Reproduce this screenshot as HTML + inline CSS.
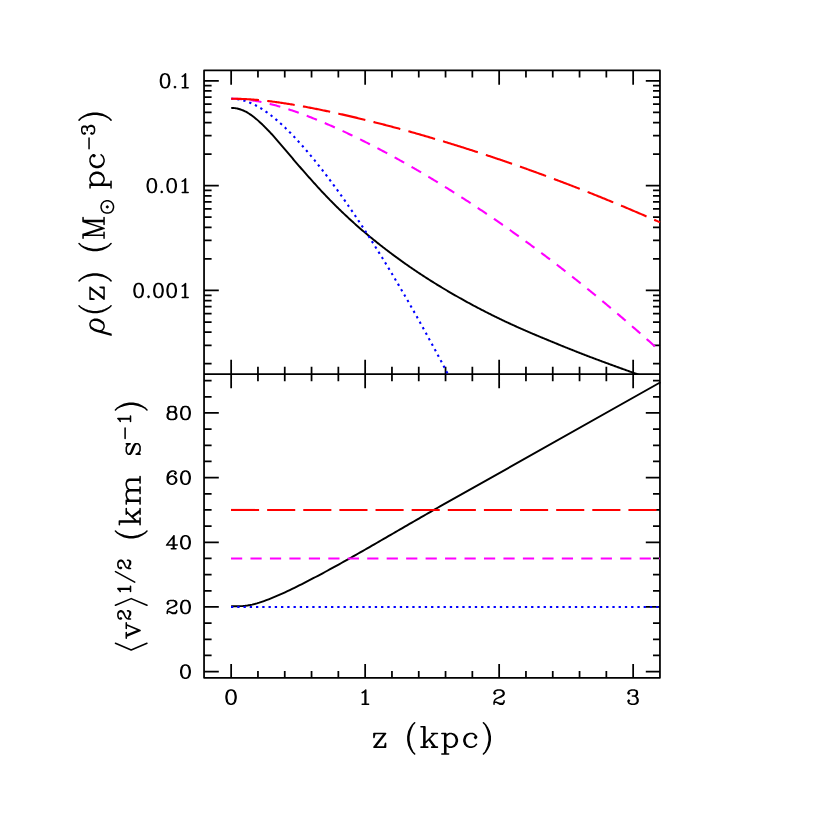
<!DOCTYPE html>
<html><head><meta charset="utf-8"><title>chart</title>
<style>html,body{margin:0;padding:0;background:#fff;font-family:"Liberation Sans",sans-serif}svg{display:block}</style></head>
<body><svg width="830" height="830" viewBox="0 0 830 830">
<rect width="830" height="830" fill="#fff"/>
<path d="M204.05 70.42 H659.95 V677.78 H204.05 Z M204.05 374.00 H659.95 M231.15 70.42 v14.40 M231.15 359.80 v28.40 M231.15 677.78 v-13.80 M257.95 70.42 v7.00 M257.95 366.80 v14.40 M257.95 677.78 v-6.70 M284.75 70.42 v7.00 M284.75 366.80 v14.40 M284.75 677.78 v-6.70 M311.55 70.42 v7.00 M311.55 366.80 v14.40 M311.55 677.78 v-6.70 M338.35 70.42 v7.00 M338.35 366.80 v14.40 M338.35 677.78 v-6.70 M365.15 70.42 v14.40 M365.15 359.80 v28.40 M365.15 677.78 v-13.80 M391.95 70.42 v7.00 M391.95 366.80 v14.40 M391.95 677.78 v-6.70 M418.75 70.42 v7.00 M418.75 366.80 v14.40 M418.75 677.78 v-6.70 M445.55 70.42 v7.00 M445.55 366.80 v14.40 M445.55 677.78 v-6.70 M472.35 70.42 v7.00 M472.35 366.80 v14.40 M472.35 677.78 v-6.70 M499.15 70.42 v14.40 M499.15 359.80 v28.40 M499.15 677.78 v-13.80 M525.95 70.42 v7.00 M525.95 366.80 v14.40 M525.95 677.78 v-6.70 M552.75 70.42 v7.00 M552.75 366.80 v14.40 M552.75 677.78 v-6.70 M579.55 70.42 v7.00 M579.55 366.80 v14.40 M579.55 677.78 v-6.70 M606.35 70.42 v7.00 M606.35 366.80 v14.40 M606.35 677.78 v-6.70 M633.15 70.42 v14.40 M633.15 359.80 v28.40 M633.15 677.78 v-13.80 M204.05 80.80 h14.75 M659.95 80.80 h-14.15 M204.05 185.63 h14.75 M659.95 185.63 h-14.15 M204.05 154.07 h7.55 M659.95 154.07 h-6.95 M204.05 135.61 h7.55 M659.95 135.61 h-6.95 M204.05 122.52 h7.55 M659.95 122.52 h-6.95 M204.05 112.36 h7.55 M659.95 112.36 h-6.95 M204.05 104.06 h7.55 M659.95 104.06 h-6.95 M204.05 97.04 h7.55 M659.95 97.04 h-6.95 M204.05 90.96 h7.55 M659.95 90.96 h-6.95 M204.05 85.60 h7.55 M659.95 85.60 h-6.95 M204.05 290.46 h14.75 M659.95 290.46 h-14.15 M204.05 258.90 h7.55 M659.95 258.90 h-6.95 M204.05 240.44 h7.55 M659.95 240.44 h-6.95 M204.05 227.35 h7.55 M659.95 227.35 h-6.95 M204.05 217.19 h7.55 M659.95 217.19 h-6.95 M204.05 208.89 h7.55 M659.95 208.89 h-6.95 M204.05 201.87 h7.55 M659.95 201.87 h-6.95 M204.05 195.79 h7.55 M659.95 195.79 h-6.95 M204.05 190.43 h7.55 M659.95 190.43 h-6.95 M204.05 363.73 h7.55 M659.95 363.73 h-6.95 M204.05 345.27 h7.55 M659.95 345.27 h-6.95 M204.05 332.18 h7.55 M659.95 332.18 h-6.95 M204.05 322.02 h7.55 M659.95 322.02 h-6.95 M204.05 313.72 h7.55 M659.95 313.72 h-6.95 M204.05 306.70 h7.55 M659.95 306.70 h-6.95 M204.05 300.62 h7.55 M659.95 300.62 h-6.95 M204.05 295.26 h7.55 M659.95 295.26 h-6.95 M204.05 671.62 h14.75 M659.95 671.62 h-14.15 M204.05 655.45 h7.55 M659.95 655.45 h-6.95 M204.05 639.29 h7.55 M659.95 639.29 h-6.95 M204.05 623.12 h7.55 M659.95 623.12 h-6.95 M204.05 606.96 h14.75 M659.95 606.96 h-14.15 M204.05 590.79 h7.55 M659.95 590.79 h-6.95 M204.05 574.63 h7.55 M659.95 574.63 h-6.95 M204.05 558.46 h7.55 M659.95 558.46 h-6.95 M204.05 542.30 h14.75 M659.95 542.30 h-14.15 M204.05 526.13 h7.55 M659.95 526.13 h-6.95 M204.05 509.97 h7.55 M659.95 509.97 h-6.95 M204.05 493.80 h7.55 M659.95 493.80 h-6.95 M204.05 477.63 h14.75 M659.95 477.63 h-14.15 M204.05 461.47 h7.55 M659.95 461.47 h-6.95 M204.05 445.30 h7.55 M659.95 445.30 h-6.95 M204.05 429.14 h7.55 M659.95 429.14 h-6.95 M204.05 412.97 h14.75 M659.95 412.97 h-14.15 M204.05 396.81 h7.55 M659.95 396.81 h-6.95 M204.05 380.64 h7.55 M659.95 380.64 h-6.95" fill="none" stroke="#000" stroke-width="1.75" stroke-linecap="butt" stroke-linejoin="round"/>
<defs><clipPath id="ct"><rect x="204.05" y="70.42" width="456.90" height="303.58"/></clipPath></defs>
<g fill="none" stroke-width="2.10" stroke-linejoin="round">
<path d="M231.20 107.90 L232.06 107.91 L232.92 107.95 L233.78 108.02 L234.64 108.11 L235.50 108.23 L236.36 108.38 L237.22 108.55 L238.07 108.75 L238.93 108.98 L239.79 109.23 L240.65 109.51 L241.51 109.81 L242.37 110.15 L243.23 110.50 L244.09 110.89 L244.95 111.30 L245.81 111.74 L246.67 112.20 L247.53 112.69 L248.39 113.21 L249.25 113.75 L250.11 114.32 L250.96 114.90 L251.82 115.52 L252.68 116.15 L253.54 116.81 L254.40 117.48 L255.26 118.18 L256.12 118.89 L256.98 119.63 L257.84 120.38 L258.70 121.14 L259.56 121.92 L260.42 122.71 L261.28 123.52 L262.14 124.33 L262.99 125.16 L263.85 126.00 L264.71 126.85 L265.57 127.70 L266.43 128.57 L267.29 129.45 L268.15 130.34 L269.01 131.25 L269.87 132.16 L270.73 133.08 L271.59 134.02 L272.45 134.97 L273.31 135.93 L274.17 136.89 L275.03 137.87 L275.88 138.85 L276.74 139.84 L277.60 140.83 L278.46 141.83 L279.32 142.83 L280.18 143.84 L281.04 144.84 L281.90 145.85 L282.76 146.86 L283.62 147.87 L284.48 148.88 L285.34 149.89 L286.20 150.90 L287.06 151.91 L287.92 152.93 L288.77 153.94 L289.63 154.95 L290.49 155.97 L291.35 156.98 L292.21 157.99 L293.07 159.00 L293.93 160.01 L294.79 161.02 L295.65 162.03 L296.51 163.03 L297.37 164.03 L298.23 165.02 L299.09 166.02 L299.95 167.01 L300.80 168.00 L301.66 168.99 L302.52 169.97 L303.38 170.95 L304.24 171.93 L305.10 172.90 L305.96 173.88 L306.82 174.85 L307.68 175.82 L308.54 176.78 L309.40 177.75 L310.26 178.71 L311.12 179.68 L311.98 180.64 L312.84 181.60 L313.69 182.55 L314.55 183.51 L315.41 184.46 L316.27 185.41 L317.13 186.36 L317.99 187.30 L318.85 188.24 L319.71 189.18 L320.57 190.11 L321.43 191.04 L322.29 191.96 L323.15 192.88 L324.01 193.79 L324.87 194.70 L325.73 195.60 L326.58 196.50 L327.44 197.40 L328.30 198.29 L329.16 199.18 L330.02 200.06 L330.88 200.94 L331.74 201.81 L332.60 202.68 L333.46 203.54 L334.32 204.41 L335.18 205.26 L336.04 206.11 L336.90 206.96 L337.76 207.81 L338.61 208.65 L339.47 209.48 L340.33 210.31 L341.19 211.14 L342.05 211.97 L342.91 212.79 L343.77 213.60 L344.63 214.41 L345.49 215.22 L346.35 216.03 L347.21 216.83 L348.07 217.63 L348.93 218.42 L349.79 219.21 L350.65 220.00 L351.50 220.78 L352.36 221.56 L353.22 222.34 L354.08 223.11 L354.94 223.88 L355.80 224.65 L356.66 225.41 L357.52 226.17 L358.38 226.92 L359.24 227.67 L360.10 228.42 L360.96 229.17 L361.82 229.91 L362.68 230.64 L363.54 231.38 L364.39 232.11 L365.25 232.83 L366.11 233.56 L366.97 234.28 L367.83 234.99 L368.69 235.71 L369.55 236.42 L370.41 237.13 L371.27 237.83 L372.13 238.54 L372.99 239.24 L373.85 239.93 L374.71 240.63 L375.57 241.32 L376.42 242.01 L377.28 242.69 L378.14 243.38 L379.00 244.06 L379.86 244.74 L380.72 245.41 L381.58 246.09 L382.44 246.76 L383.30 247.43 L384.16 248.09 L385.02 248.75 L385.88 249.41 L386.74 250.07 L387.60 250.73 L388.46 251.38 L389.31 252.03 L390.17 252.68 L391.03 253.32 L391.89 253.97 L392.75 254.61 L393.61 255.25 L394.47 255.88 L395.33 256.51 L396.19 257.15 L397.05 257.77 L397.91 258.40 L398.77 259.03 L399.63 259.65 L400.49 260.27 L401.35 260.88 L402.20 261.50 L403.06 262.11 L403.92 262.72 L404.78 263.33 L405.64 263.94 L406.50 264.54 L407.36 265.14 L408.22 265.74 L409.08 266.34 L409.94 266.94 L410.80 267.53 L411.66 268.12 L412.52 268.71 L413.38 269.29 L414.23 269.88 L415.09 270.46 L415.95 271.04 L416.81 271.62 L417.67 272.19 L418.53 272.76 L419.39 273.33 L420.25 273.90 L421.11 274.47 L421.97 275.03 L422.83 275.60 L423.69 276.16 L424.55 276.72 L425.41 277.27 L426.27 277.83 L427.12 278.38 L427.98 278.93 L428.84 279.48 L429.70 280.02 L430.56 280.56 L431.42 281.11 L432.28 281.65 L433.14 282.18 L434.00 282.72 L434.86 283.25 L435.72 283.79 L436.58 284.32 L437.44 284.84 L438.30 285.37 L439.16 285.89 L440.01 286.42 L440.87 286.94 L441.73 287.46 L442.59 287.97 L443.45 288.49 L444.31 289.00 L445.17 289.51 L446.03 290.02 L446.89 290.53 L447.75 291.04 L448.61 291.54 L449.47 292.05 L450.33 292.55 L451.19 293.05 L452.04 293.55 L452.90 294.05 L453.76 294.54 L454.62 295.04 L455.48 295.53 L456.34 296.03 L457.20 296.52 L458.06 297.01 L458.92 297.49 L459.78 297.98 L460.64 298.47 L461.50 298.95 L462.36 299.43 L463.22 299.91 L464.08 300.39 L464.93 300.86 L465.79 301.34 L466.65 301.81 L467.51 302.28 L468.37 302.75 L469.23 303.22 L470.09 303.68 L470.95 304.15 L471.81 304.61 L472.67 305.07 L473.53 305.53 L474.39 305.99 L475.25 306.45 L476.11 306.90 L476.97 307.36 L477.82 307.81 L478.68 308.26 L479.54 308.71 L480.40 309.16 L481.26 309.61 L482.12 310.05 L482.98 310.49 L483.84 310.94 L484.70 311.38 L485.56 311.82 L486.42 312.25 L487.28 312.69 L488.14 313.13 L489.00 313.56 L489.85 313.99 L490.71 314.42 L491.57 314.85 L492.43 315.28 L493.29 315.70 L494.15 316.13 L495.01 316.55 L495.87 316.98 L496.73 317.40 L497.59 317.81 L498.45 318.23 L499.31 318.65 L500.17 319.06 L501.03 319.47 L501.89 319.88 L502.74 320.29 L503.60 320.70 L504.46 321.10 L505.32 321.51 L506.18 321.91 L507.04 322.31 L507.90 322.71 L508.76 323.11 L509.62 323.50 L510.48 323.90 L511.34 324.29 L512.20 324.69 L513.06 325.08 L513.92 325.47 L514.78 325.86 L515.63 326.25 L516.49 326.63 L517.35 327.02 L518.21 327.41 L519.07 327.79 L519.93 328.17 L520.79 328.55 L521.65 328.93 L522.51 329.31 L523.37 329.69 L524.23 330.07 L525.09 330.44 L525.95 330.82 L526.81 331.19 L527.66 331.57 L528.52 331.94 L529.38 332.31 L530.24 332.68 L531.10 333.05 L531.96 333.41 L532.82 333.78 L533.68 334.15 L534.54 334.51 L535.40 334.88 L536.26 335.24 L537.12 335.60 L537.98 335.96 L538.84 336.32 L539.70 336.68 L540.55 337.04 L541.41 337.39 L542.27 337.75 L543.13 338.10 L543.99 338.46 L544.85 338.81 L545.71 339.17 L546.57 339.52 L547.43 339.87 L548.29 340.23 L549.15 340.58 L550.01 340.94 L550.87 341.29 L551.73 341.64 L552.59 342.00 L553.44 342.35 L554.30 342.71 L555.16 343.06 L556.02 343.42 L556.88 343.77 L557.74 344.13 L558.60 344.48 L559.46 344.83 L560.32 345.18 L561.18 345.53 L562.04 345.88 L562.90 346.23 L563.76 346.58 L564.62 346.93 L565.47 347.28 L566.33 347.62 L567.19 347.97 L568.05 348.31 L568.91 348.66 L569.77 349.00 L570.63 349.35 L571.49 349.69 L572.35 350.03 L573.21 350.37 L574.07 350.71 L574.93 351.05 L575.79 351.39 L576.65 351.73 L577.51 352.07 L578.36 352.40 L579.22 352.74 L580.08 353.08 L580.94 353.41 L581.80 353.75 L582.66 354.08 L583.52 354.41 L584.38 354.75 L585.24 355.08 L586.10 355.41 L586.96 355.74 L587.82 356.07 L588.68 356.40 L589.54 356.73 L590.40 357.05 L591.25 357.38 L592.11 357.70 L592.97 358.03 L593.83 358.35 L594.69 358.68 L595.55 359.00 L596.41 359.32 L597.27 359.64 L598.13 359.96 L598.99 360.28 L599.85 360.60 L600.71 360.92 L601.57 361.24 L602.43 361.55 L603.28 361.87 L604.14 362.19 L605.00 362.51 L605.86 362.82 L606.72 363.14 L607.58 363.45 L608.44 363.77 L609.30 364.08 L610.16 364.40 L611.02 364.71 L611.88 365.03 L612.74 365.34 L613.60 365.65 L614.46 365.97 L615.32 366.28 L616.17 366.59 L617.03 366.91 L617.89 367.22 L618.75 367.53 L619.61 367.84 L620.47 368.15 L621.33 368.46 L622.19 368.77 L623.05 369.08 L623.91 369.39 L624.77 369.70 L625.63 370.01 L626.49 370.32 L627.35 370.63 L628.21 370.94 L629.06 371.25 L629.92 371.56 L630.78 371.87 L631.64 372.18 L632.50 372.48 L633.36 372.79 L634.22 373.10 L635.08 373.41 L635.94 373.71 L636.80 374.02 L637.66 374.33 L638.52 374.63 L639.38 374.94 L640.24 375.24 L641.09 375.55 L641.95 375.85 L642.81 376.16 L643.67 376.46 L644.53 376.76 L645.39 377.07 L646.25 377.37 L647.11 377.67 L647.97 377.97 L648.83 378.28 L649.69 378.58 L650.55 378.88 L651.41 379.18 L652.27 379.49 L653.13 379.79 L653.98 380.09 L654.84 380.39 L655.70 380.69 L656.56 381.00 L657.42 381.30 L658.28 381.60 L659.14 381.90 L660.00 382.20" stroke="#000" stroke-width="1.95" clip-path="url(#ct)"/>
<path d="M231.20 98.75 L231.79 98.75 L232.38 98.77 L232.96 98.79 L233.55 98.81 L234.14 98.85 L234.73 98.89 L235.31 98.94 L235.90 99.00 L236.49 99.07 L237.08 99.14 L237.66 99.23 L238.25 99.32 L238.84 99.41 L239.43 99.52 L240.02 99.63 L240.60 99.75 L241.19 99.88 L241.78 100.02 L242.37 100.16 L242.95 100.31 L243.54 100.47 L244.13 100.64 L244.72 100.81 L245.31 100.99 L245.89 101.18 L246.48 101.38 L247.07 101.58 L247.66 101.79 L248.24 102.01 L248.83 102.23 L249.42 102.46 L250.01 102.70 L250.59 102.95 L251.18 103.20 L251.77 103.46 L252.36 103.72 L252.95 104.00 L253.53 104.28 L254.12 104.56 L254.71 104.86 L255.30 105.15 L255.88 105.46 L256.47 105.77 L257.06 106.09 L257.65 106.42 L258.24 106.75 L258.82 107.09 L259.41 107.43 L260.00 107.78 L260.59 108.14 L261.17 108.50 L261.76 108.87 L262.35 109.24 L262.94 109.62 L263.52 110.01 L264.11 110.40 L264.70 110.80 L265.29 111.20 L265.88 111.61 L266.46 112.02 L267.05 112.44 L267.64 112.86 L268.23 113.29 L268.81 113.73 L269.40 114.17 L269.99 114.62 L270.58 115.07 L271.16 115.52 L271.75 115.98 L272.34 116.45 L272.93 116.92 L273.52 117.40 L274.10 117.88 L274.69 118.36 L275.28 118.85 L275.87 119.35 L276.45 119.85 L277.04 120.35 L277.63 120.86 L278.22 121.37 L278.81 121.89 L279.39 122.41 L279.98 122.94 L280.57 123.47 L281.16 124.00 L281.74 124.54 L282.33 125.09 L282.92 125.63 L283.51 126.19 L284.09 126.74 L284.68 127.30 L285.27 127.86 L285.86 128.43 L286.45 129.00 L287.03 129.58 L287.62 130.16 L288.21 130.74 L288.80 131.33 L289.38 131.92 L289.97 132.51 L290.56 133.11 L291.15 133.71 L291.74 134.32 L292.32 134.92 L292.91 135.54 L293.50 136.15 L294.09 136.77 L294.67 137.39 L295.26 138.02 L295.85 138.65 L296.44 139.28 L297.02 139.92 L297.61 140.56 L298.20 141.20 L298.79 141.84 L299.38 142.49 L299.96 143.14 L300.55 143.80 L301.14 144.46 L301.73 145.12 L302.31 145.78 L302.90 146.45 L303.49 147.12 L304.08 147.79 L304.66 148.47 L305.25 149.15 L305.84 149.83 L306.43 150.51 L307.02 151.20 L307.60 151.89 L308.19 152.59 L308.78 153.28 L309.37 153.98 L309.95 154.68 L310.54 155.39 L311.13 156.09 L311.72 156.80 L312.31 157.52 L312.89 158.23 L313.48 158.95 L314.07 159.67 L314.66 160.39 L315.24 161.12 L315.83 161.85 L316.42 162.58 L317.01 163.31 L317.59 164.05 L318.18 164.79 L318.77 165.53 L319.36 166.27 L319.95 167.01 L320.53 167.76 L321.12 168.51 L321.71 169.27 L322.30 170.02 L322.88 170.78 L323.47 171.54 L324.06 172.30 L324.65 173.07 L325.24 173.83 L325.82 174.60 L326.41 175.38 L327.00 176.15 L327.59 176.93 L328.17 177.70 L328.76 178.49 L329.35 179.27 L329.94 180.05 L330.52 180.84 L331.11 181.63 L331.70 182.42 L332.29 183.22 L332.88 184.01 L333.46 184.81 L334.05 185.61 L334.64 186.42 L335.23 187.22 L335.81 188.03 L336.40 188.84 L336.99 189.65 L337.58 190.46 L338.16 191.28 L338.75 192.09 L339.34 192.91 L339.93 193.73 L340.52 194.56 L341.10 195.38 L341.69 196.21 L342.28 197.04 L342.87 197.87 L343.45 198.71 L344.04 199.54 L344.63 200.38 L345.22 201.22 L345.81 202.06 L346.39 202.90 L346.98 203.75 L347.57 204.60 L348.16 205.45 L348.74 206.30 L349.33 207.15 L349.92 208.01 L350.51 208.86 L351.09 209.72 L351.68 210.58 L352.27 211.45 L352.86 212.31 L353.45 213.18 L354.03 214.04 L354.62 214.91 L355.21 215.79 L355.80 216.66 L356.38 217.54 L356.97 218.41 L357.56 219.29 L358.15 220.17 L358.74 221.06 L359.32 221.94 L359.91 222.83 L360.50 223.72 L361.09 224.61 L361.67 225.50 L362.26 226.39 L362.85 227.29 L363.44 228.19 L364.02 229.09 L364.61 229.99 L365.20 230.89 L365.79 231.80 L366.38 232.70 L366.96 233.61 L367.55 234.52 L368.14 235.43 L368.73 236.35 L369.31 237.26 L369.90 238.18 L370.49 239.10 L371.08 240.02 L371.66 240.94 L372.25 241.86 L372.84 242.79 L373.43 243.71 L374.02 244.64 L374.60 245.57 L375.19 246.51 L375.78 247.44 L376.37 248.37 L376.95 249.31 L377.54 250.25 L378.13 251.19 L378.72 252.13 L379.31 253.08 L379.89 254.02 L380.48 254.97 L381.07 255.92 L381.66 256.87 L382.24 257.82 L382.83 258.78 L383.42 259.73 L384.01 260.69 L384.59 261.65 L385.18 262.61 L385.77 263.57 L386.36 264.54 L386.95 265.50 L387.53 266.47 L388.12 267.44 L388.71 268.41 L389.30 269.38 L389.88 270.35 L390.47 271.33 L391.06 272.30 L391.65 273.28 L392.24 274.26 L392.82 275.24 L393.41 276.23 L394.00 277.21 L394.59 278.20 L395.17 279.19 L395.76 280.18 L396.35 281.17 L396.94 282.16 L397.52 283.15 L398.11 284.15 L398.70 285.15 L399.29 286.15 L399.88 287.15 L400.46 288.15 L401.05 289.15 L401.64 290.16 L402.23 291.16 L402.81 292.17 L403.40 293.18 L403.99 294.20 L404.58 295.21 L405.16 296.22 L405.75 297.24 L406.34 298.26 L406.93 299.28 L407.52 300.30 L408.10 301.32 L408.69 302.34 L409.28 303.37 L409.87 304.40 L410.45 305.42 L411.04 306.46 L411.63 307.49 L412.22 308.52 L412.81 309.55 L413.39 310.59 L413.98 311.63 L414.57 312.67 L415.16 313.71 L415.74 314.75 L416.33 315.80 L416.92 316.84 L417.51 317.89 L418.09 318.94 L418.68 319.99 L419.27 321.04 L419.86 322.09 L420.45 323.15 L421.03 324.20 L421.62 325.26 L422.21 326.32 L422.80 327.38 L423.38 328.44 L423.97 329.50 L424.56 330.57 L425.15 331.64 L425.74 332.70 L426.32 333.77 L426.91 334.84 L427.50 335.92 L428.09 336.99 L428.67 338.07 L429.26 339.14 L429.85 340.22 L430.44 341.30 L431.02 342.38 L431.61 343.47 L432.20 344.55 L432.79 345.64 L433.38 346.72 L433.96 347.81 L434.55 348.90 L435.14 350.00 L435.73 351.09 L436.31 352.18 L436.90 353.28 L437.49 354.38 L438.08 355.48 L438.66 356.58 L439.25 357.68 L439.84 358.78 L440.43 359.89 L441.02 361.00 L441.60 362.10 L442.19 363.21 L442.78 364.32 L443.37 365.44 L443.95 366.55 L444.54 367.67 L445.13 368.78 L445.72 369.90 L446.31 371.02 L446.89 372.14 L447.48 373.27 L448.07 374.39 L448.66 375.52 L449.24 376.64 L449.83 377.77 L450.42 378.90 L451.01 380.03 L451.59 381.17 L452.18 382.30 L452.77 383.44 L453.36 384.57 L453.95 385.71 L454.53 386.85 L455.12 387.99 L455.71 389.14 L456.30 390.28 L456.88 391.43 L457.47 392.57 L458.06 393.72 L458.65 394.87 L459.24 396.03 L459.82 397.18 L460.41 398.33 L461.00 399.49 L461.59 400.65 L462.17 401.81 L462.76 402.97 L463.35 404.13 L463.94 405.29 L464.52 406.46 L465.11 407.62 L465.70 408.79" stroke="#0000ff" stroke-dasharray="2.3 3.945" stroke-dashoffset="0.25" clip-path="url(#ct)"/>
<path d="M231.20 98.75 L232.27 98.75 L233.35 98.77 L234.42 98.79 L235.50 98.82 L236.57 98.86 L237.65 98.90 L238.72 98.96 L239.80 99.02 L240.87 99.10 L241.95 99.18 L243.02 99.27 L244.10 99.36 L245.17 99.47 L246.25 99.58 L247.32 99.70 L248.39 99.83 L249.47 99.97 L250.54 100.11 L251.62 100.27 L252.69 100.42 L253.77 100.59 L254.84 100.77 L255.92 100.95 L256.99 101.14 L258.07 101.33 L259.14 101.53 L260.22 101.74 L261.29 101.96 L262.37 102.18 L263.44 102.41 L264.52 102.64 L265.59 102.88 L266.66 103.13 L267.74 103.38 L268.81 103.64 L269.89 103.91 L270.96 104.18 L272.04 104.45 L273.11 104.73 L274.19 105.02 L275.26 105.31 L276.34 105.61 L277.41 105.91 L278.49 106.21 L279.56 106.53 L280.64 106.84 L281.71 107.16 L282.78 107.49 L283.86 107.82 L284.93 108.15 L286.01 108.49 L287.08 108.83 L288.16 109.18 L289.23 109.53 L290.31 109.89 L291.38 110.24 L292.46 110.61 L293.53 110.97 L294.61 111.34 L295.68 111.72 L296.76 112.10 L297.83 112.48 L298.91 112.86 L299.98 113.25 L301.05 113.64 L302.13 114.04 L303.20 114.44 L304.28 114.84 L305.35 115.24 L306.43 115.65 L307.50 116.06 L308.58 116.48 L309.65 116.90 L310.73 117.32 L311.80 117.74 L312.88 118.17 L313.95 118.60 L315.03 119.03 L316.10 119.46 L317.17 119.90 L318.25 120.34 L319.32 120.78 L320.40 121.23 L321.47 121.68 L322.55 122.13 L323.62 122.58 L324.70 123.04 L325.77 123.50 L326.85 123.96 L327.92 124.42 L329.00 124.89 L330.07 125.36 L331.15 125.83 L332.22 126.30 L333.30 126.78 L334.37 127.26 L335.44 127.74 L336.52 128.22 L337.59 128.70 L338.67 129.19 L339.74 129.68 L340.82 130.17 L341.89 130.67 L342.97 131.16 L344.04 131.66 L345.12 132.16 L346.19 132.66 L347.27 133.17 L348.34 133.68 L349.42 134.19 L350.49 134.70 L351.56 135.21 L352.64 135.73 L353.71 136.24 L354.79 136.76 L355.86 137.28 L356.94 137.81 L358.01 138.33 L359.09 138.86 L360.16 139.39 L361.24 139.92 L362.31 140.45 L363.39 140.99 L364.46 141.53 L365.54 142.07 L366.61 142.61 L367.69 143.15 L368.76 143.70 L369.83 144.24 L370.91 144.79 L371.98 145.34 L373.06 145.89 L374.13 146.45 L375.21 147.01 L376.28 147.56 L377.36 148.12 L378.43 148.69 L379.51 149.25 L380.58 149.81 L381.66 150.38 L382.73 150.95 L383.81 151.52 L384.88 152.09 L385.95 152.67 L387.03 153.24 L388.10 153.82 L389.18 154.40 L390.25 154.98 L391.33 155.57 L392.40 156.15 L393.48 156.74 L394.55 157.33 L395.63 157.92 L396.70 158.51 L397.78 159.10 L398.85 159.70 L399.93 160.30 L401.00 160.89 L402.08 161.49 L403.15 162.10 L404.22 162.70 L405.30 163.31 L406.37 163.91 L407.45 164.52 L408.52 165.13 L409.60 165.75 L410.67 166.36 L411.75 166.98 L412.82 167.59 L413.90 168.21 L414.97 168.83 L416.05 169.46 L417.12 170.08 L418.20 170.71 L419.27 171.33 L420.34 171.96 L421.42 172.59 L422.49 173.23 L423.57 173.86 L424.64 174.50 L425.72 175.13 L426.79 175.77 L427.87 176.41 L428.94 177.05 L430.02 177.70 L431.09 178.34 L432.17 178.99 L433.24 179.64 L434.32 180.29 L435.39 180.94 L436.47 181.60 L437.54 182.25 L438.61 182.91 L439.69 183.57 L440.76 184.23 L441.84 184.89 L442.91 185.55 L443.99 186.22 L445.06 186.88 L446.14 187.55 L447.21 188.22 L448.29 188.89 L449.36 189.56 L450.44 190.24 L451.51 190.91 L452.59 191.59 L453.66 192.27 L454.73 192.95 L455.81 193.63 L456.88 194.32 L457.96 195.00 L459.03 195.69 L460.11 196.38 L461.18 197.07 L462.26 197.76 L463.33 198.45 L464.41 199.15 L465.48 199.85 L466.56 200.54 L467.63 201.24 L468.71 201.94 L469.78 202.65 L470.86 203.35 L471.93 204.06 L473.00 204.76 L474.08 205.47 L475.15 206.18 L476.23 206.90 L477.30 207.61 L478.38 208.33 L479.45 209.04 L480.53 209.76 L481.60 210.48 L482.68 211.20 L483.75 211.92 L484.83 212.65 L485.90 213.37 L486.98 214.10 L488.05 214.83 L489.12 215.56 L490.20 216.29 L491.27 217.03 L492.35 217.76 L493.42 218.50 L494.50 219.24 L495.57 219.98 L496.65 220.72 L497.72 221.46 L498.80 222.21 L499.87 222.95 L500.95 223.70 L502.02 224.45 L503.10 225.20 L504.17 225.95 L505.25 226.71 L506.32 227.46 L507.39 228.22 L508.47 228.98 L509.54 229.74 L510.62 230.50 L511.69 231.26 L512.77 232.02 L513.84 232.79 L514.92 233.56 L515.99 234.33 L517.07 235.10 L518.14 235.87 L519.22 236.64 L520.29 237.42 L521.37 238.19 L522.44 238.97 L523.51 239.75 L524.59 240.53 L525.66 241.32 L526.74 242.10 L527.81 242.89 L528.89 243.67 L529.96 244.46 L531.04 245.25 L532.11 246.04 L533.19 246.84 L534.26 247.63 L535.34 248.43 L536.41 249.22 L537.49 250.02 L538.56 250.82 L539.64 251.63 L540.71 252.43 L541.78 253.24 L542.86 254.04 L543.93 254.85 L545.01 255.66 L546.08 256.47 L547.16 257.29 L548.23 258.10 L549.31 258.92 L550.38 259.73 L551.46 260.55 L552.53 261.37 L553.61 262.19 L554.68 263.02 L555.76 263.84 L556.83 264.67 L557.90 265.50 L558.98 266.33 L560.05 267.16 L561.13 267.99 L562.20 268.82 L563.28 269.66 L564.35 270.50 L565.43 271.33 L566.50 272.17 L567.58 273.02 L568.65 273.86 L569.73 274.70 L570.80 275.55 L571.88 276.40 L572.95 277.24 L574.03 278.10 L575.10 278.95 L576.17 279.80 L577.25 280.66 L578.32 281.51 L579.40 282.37 L580.47 283.23 L581.55 284.09 L582.62 284.95 L583.70 285.82 L584.77 286.68 L585.85 287.55 L586.92 288.42 L588.00 289.29 L589.07 290.16 L590.15 291.03 L591.22 291.91 L592.29 292.78 L593.37 293.66 L594.44 294.54 L595.52 295.42 L596.59 296.30 L597.67 297.18 L598.74 298.07 L599.82 298.95 L600.89 299.84 L601.97 300.73 L603.04 301.62 L604.12 302.51 L605.19 303.41 L606.27 304.30 L607.34 305.20 L608.42 306.10 L609.49 307.00 L610.56 307.90 L611.64 308.80 L612.71 309.70 L613.79 310.61 L614.86 311.52 L615.94 312.43 L617.01 313.34 L618.09 314.25 L619.16 315.16 L620.24 316.08 L621.31 316.99 L622.39 317.91 L623.46 318.83 L624.54 319.75 L625.61 320.67 L626.68 321.59 L627.76 322.52 L628.83 323.45 L629.91 324.37 L630.98 325.30 L632.06 326.23 L633.13 327.17 L634.21 328.10 L635.28 329.04 L636.36 329.97 L637.43 330.91 L638.51 331.85 L639.58 332.79 L640.66 333.73 L641.73 334.68 L642.81 335.62 L643.88 336.57 L644.95 337.52 L646.03 338.47 L647.10 339.42 L648.18 340.38 L649.25 341.33 L650.33 342.29 L651.40 343.24 L652.48 344.20 L653.55 345.16 L654.63 346.13 L655.70 347.09 L656.78 348.05 L657.85 349.02 L658.93 349.99 L660.00 350.96" stroke="#ff00ff" stroke-dasharray="11.0 8.46" clip-path="url(#ct)"/>
<path d="M231.20 98.75 L232.27 98.75 L233.35 98.76 L234.42 98.77 L235.50 98.78 L236.57 98.80 L237.65 98.83 L238.72 98.85 L239.80 98.88 L240.87 98.92 L241.95 98.96 L243.02 99.00 L244.10 99.05 L245.17 99.10 L246.25 99.16 L247.32 99.22 L248.39 99.28 L249.47 99.35 L250.54 99.42 L251.62 99.49 L252.69 99.57 L253.77 99.65 L254.84 99.74 L255.92 99.83 L256.99 99.92 L258.07 100.01 L259.14 100.11 L260.22 100.22 L261.29 100.32 L262.37 100.43 L263.44 100.54 L264.52 100.66 L265.59 100.78 L266.66 100.90 L267.74 101.02 L268.81 101.15 L269.89 101.28 L270.96 101.41 L272.04 101.54 L273.11 101.68 L274.19 101.82 L275.26 101.96 L276.34 102.11 L277.41 102.26 L278.49 102.41 L279.56 102.56 L280.64 102.71 L281.71 102.87 L282.78 103.03 L283.86 103.19 L284.93 103.36 L286.01 103.52 L287.08 103.69 L288.16 103.86 L289.23 104.03 L290.31 104.21 L291.38 104.38 L292.46 104.56 L293.53 104.74 L294.61 104.92 L295.68 105.10 L296.76 105.29 L297.83 105.48 L298.91 105.67 L299.98 105.86 L301.05 106.05 L302.13 106.24 L303.20 106.44 L304.28 106.63 L305.35 106.83 L306.43 107.03 L307.50 107.23 L308.58 107.44 L309.65 107.64 L310.73 107.85 L311.80 108.05 L312.88 108.26 L313.95 108.47 L315.03 108.69 L316.10 108.90 L317.17 109.11 L318.25 109.33 L319.32 109.55 L320.40 109.76 L321.47 109.98 L322.55 110.21 L323.62 110.43 L324.70 110.65 L325.77 110.88 L326.85 111.10 L327.92 111.33 L329.00 111.56 L330.07 111.79 L331.15 112.02 L332.22 112.25 L333.30 112.48 L334.37 112.72 L335.44 112.95 L336.52 113.19 L337.59 113.43 L338.67 113.67 L339.74 113.91 L340.82 114.15 L341.89 114.39 L342.97 114.63 L344.04 114.88 L345.12 115.12 L346.19 115.37 L347.27 115.62 L348.34 115.86 L349.42 116.11 L350.49 116.36 L351.56 116.62 L352.64 116.87 L353.71 117.12 L354.79 117.38 L355.86 117.63 L356.94 117.89 L358.01 118.15 L359.09 118.40 L360.16 118.66 L361.24 118.92 L362.31 119.19 L363.39 119.45 L364.46 119.71 L365.54 119.98 L366.61 120.24 L367.69 120.51 L368.76 120.77 L369.83 121.04 L370.91 121.31 L371.98 121.58 L373.06 121.85 L374.13 122.12 L375.21 122.40 L376.28 122.67 L377.36 122.94 L378.43 123.22 L379.51 123.49 L380.58 123.77 L381.66 124.05 L382.73 124.33 L383.81 124.61 L384.88 124.89 L385.95 125.17 L387.03 125.45 L388.10 125.74 L389.18 126.02 L390.25 126.30 L391.33 126.59 L392.40 126.88 L393.48 127.16 L394.55 127.45 L395.63 127.74 L396.70 128.03 L397.78 128.32 L398.85 128.61 L399.93 128.91 L401.00 129.20 L402.08 129.49 L403.15 129.79 L404.22 130.09 L405.30 130.38 L406.37 130.68 L407.45 130.98 L408.52 131.28 L409.60 131.58 L410.67 131.88 L411.75 132.18 L412.82 132.48 L413.90 132.79 L414.97 133.09 L416.05 133.40 L417.12 133.70 L418.20 134.01 L419.27 134.32 L420.34 134.62 L421.42 134.93 L422.49 135.24 L423.57 135.55 L424.64 135.87 L425.72 136.18 L426.79 136.49 L427.87 136.80 L428.94 137.12 L430.02 137.43 L431.09 137.75 L432.17 138.07 L433.24 138.39 L434.32 138.70 L435.39 139.02 L436.47 139.34 L437.54 139.67 L438.61 139.99 L439.69 140.31 L440.76 140.63 L441.84 140.96 L442.91 141.28 L443.99 141.61 L445.06 141.93 L446.14 142.26 L447.21 142.59 L448.29 142.92 L449.36 143.25 L450.44 143.58 L451.51 143.91 L452.59 144.24 L453.66 144.58 L454.73 144.91 L455.81 145.24 L456.88 145.58 L457.96 145.91 L459.03 146.25 L460.11 146.59 L461.18 146.93 L462.26 147.27 L463.33 147.61 L464.41 147.95 L465.48 148.29 L466.56 148.63 L467.63 148.97 L468.71 149.32 L469.78 149.66 L470.86 150.00 L471.93 150.35 L473.00 150.70 L474.08 151.04 L475.15 151.39 L476.23 151.74 L477.30 152.09 L478.38 152.44 L479.45 152.79 L480.53 153.14 L481.60 153.50 L482.68 153.85 L483.75 154.21 L484.83 154.56 L485.90 154.92 L486.98 155.27 L488.05 155.63 L489.12 155.99 L490.20 156.35 L491.27 156.71 L492.35 157.07 L493.42 157.43 L494.50 157.79 L495.57 158.15 L496.65 158.52 L497.72 158.88 L498.80 159.24 L499.87 159.61 L500.95 159.98 L502.02 160.34 L503.10 160.71 L504.17 161.08 L505.25 161.45 L506.32 161.82 L507.39 162.19 L508.47 162.56 L509.54 162.93 L510.62 163.31 L511.69 163.68 L512.77 164.05 L513.84 164.43 L514.92 164.81 L515.99 165.18 L517.07 165.56 L518.14 165.94 L519.22 166.32 L520.29 166.70 L521.37 167.08 L522.44 167.46 L523.51 167.84 L524.59 168.22 L525.66 168.61 L526.74 168.99 L527.81 169.38 L528.89 169.76 L529.96 170.15 L531.04 170.54 L532.11 170.92 L533.19 171.31 L534.26 171.70 L535.34 172.09 L536.41 172.48 L537.49 172.87 L538.56 173.27 L539.64 173.66 L540.71 174.05 L541.78 174.45 L542.86 174.84 L543.93 175.24 L545.01 175.64 L546.08 176.03 L547.16 176.43 L548.23 176.83 L549.31 177.23 L550.38 177.63 L551.46 178.03 L552.53 178.43 L553.61 178.84 L554.68 179.24 L555.76 179.65 L556.83 180.05 L557.90 180.46 L558.98 180.86 L560.05 181.27 L561.13 181.68 L562.20 182.09 L563.28 182.50 L564.35 182.91 L565.43 183.32 L566.50 183.73 L567.58 184.14 L568.65 184.55 L569.73 184.97 L570.80 185.38 L571.88 185.80 L572.95 186.21 L574.03 186.63 L575.10 187.05 L576.17 187.46 L577.25 187.88 L578.32 188.30 L579.40 188.72 L580.47 189.14 L581.55 189.57 L582.62 189.99 L583.70 190.41 L584.77 190.84 L585.85 191.26 L586.92 191.69 L588.00 192.11 L589.07 192.54 L590.15 192.97 L591.22 193.40 L592.29 193.83 L593.37 194.26 L594.44 194.69 L595.52 195.12 L596.59 195.55 L597.67 195.98 L598.74 196.42 L599.82 196.85 L600.89 197.28 L601.97 197.72 L603.04 198.16 L604.12 198.59 L605.19 199.03 L606.27 199.47 L607.34 199.91 L608.42 200.35 L609.49 200.79 L610.56 201.23 L611.64 201.67 L612.71 202.12 L613.79 202.56 L614.86 203.01 L615.94 203.45 L617.01 203.90 L618.09 204.34 L619.16 204.79 L620.24 205.24 L621.31 205.69 L622.39 206.14 L623.46 206.59 L624.54 207.04 L625.61 207.49 L626.68 207.94 L627.76 208.40 L628.83 208.85 L629.91 209.31 L630.98 209.76 L632.06 210.22 L633.13 210.67 L634.21 211.13 L635.28 211.59 L636.36 212.05 L637.43 212.51 L638.51 212.97 L639.58 213.43 L640.66 213.89 L641.73 214.36 L642.81 214.82 L643.88 215.28 L644.95 215.75 L646.03 216.21 L647.10 216.68 L648.18 217.15 L649.25 217.61 L650.33 218.08 L651.40 218.55 L652.48 219.02 L653.55 219.49 L654.63 219.96 L655.70 220.44 L656.78 220.91 L657.85 221.38 L658.93 221.86 L660.00 222.33" stroke="#ff0000" stroke-dasharray="27.75 8.37 27.75 8.37 27.75 8.37 27.75 8.37 27.75 8.37 27.75 8.37 36.45 8.45 27.7 8.4 27.7 8.4 27.7 8.4 27.7 8.4 27.7 8.4 27.7 8.4 27.7 8.4" clip-path="url(#ct)"/>
<path d="M231.10 606.21 L233.45 606.27 L235.79 606.28 L238.14 606.25 L240.49 606.15 L242.84 606.00 L245.18 605.77 L247.53 605.46 L249.88 605.08 L252.22 604.60 L254.57 604.03 L256.92 603.39 L259.27 602.67 L261.61 601.89 L263.96 601.06 L266.31 600.20 L268.66 599.31 L271.00 598.38 L273.35 597.43 L275.70 596.45 L278.04 595.44 L280.39 594.40 L282.74 593.35 L285.09 592.27 L287.43 591.17 L289.78 590.05 L292.13 588.92 L294.47 587.78 L296.82 586.62 L299.17 585.45 L301.52 584.27 L303.86 583.08 L306.21 581.88 L308.56 580.68 L310.90 579.46 L313.25 578.24 L315.60 577.01 L317.95 575.77 L320.29 574.53 L322.64 573.27 L324.99 572.01 L327.33 570.75 L329.68 569.47 L332.03 568.19 L334.38 566.91 L336.72 565.62 L339.07 564.32 L341.42 563.02 L343.77 561.71 L346.11 560.40 L348.46 559.08 L350.81 557.76 L353.15 556.43 L355.50 555.10 L357.85 553.77 L360.20 552.43 L362.54 551.09 L364.89 549.75 L367.24 548.40 L369.58 547.05 L371.93 545.70 L374.28 544.35 L376.63 542.99 L378.97 541.64 L381.32 540.28 L383.67 538.92 L386.01 537.56 L388.36 536.20 L390.71 534.84 L393.06 533.48 L395.40 532.12 L397.75 530.76 L400.10 529.40 L402.44 528.04 L404.79 526.68 L407.14 525.32 L409.49 523.97 L411.83 522.61 L414.18 521.26 L416.53 519.91 L418.88 518.55 L421.22 517.20 L423.57 515.86 L425.92 514.51 L428.26 513.16 L430.61 511.81 L432.96 510.47 L435.31 509.13 L437.65 507.78 L440.00 506.44 L660.50 382.23" stroke="#000" stroke-width="1.95"/>
<path d="M231.00 607.06 H659.95" stroke="#0000ff" stroke-dasharray="2.3 3.952"/>
<path d="M231.00 558.56 H659.95" stroke="#ff00ff" stroke-dasharray="11.2 8.26"/>
<path d="M231.00 509.97 H656.95" stroke="#ff0000" stroke-dasharray="28.1 8.03"/>
</g>
<path d="M164.40 73.86 L162.42 74.52 L161.10 76.50 L160.44 79.81 L160.44 81.79 L161.10 85.10 L162.42 87.08 L164.40 87.74 L165.73 87.74 L167.71 87.08 L169.03 85.10 L169.69 81.79 L169.69 79.81 L169.03 76.50 L167.71 74.52 L165.73 73.86 L164.40 73.86 M164.40 73.86 L163.08 74.52 L162.42 75.18 L161.76 76.50 L161.10 79.81 L161.10 81.79 L161.76 85.10 L162.42 86.42 L163.08 87.08 L164.40 87.74 M165.73 87.74 L167.05 87.08 L167.71 86.42 L168.37 85.10 L169.03 81.79 L169.03 79.81 L168.37 76.50 L167.71 75.18 L167.05 74.52 L165.73 73.86 M174.98 86.42 L174.32 87.08 L174.98 87.74 L175.64 87.08 L174.98 86.42 M182.25 76.50 L183.57 75.84 L185.56 73.86 L185.56 87.74 M184.90 74.52 L184.90 87.74 M182.25 87.74 L188.20 87.74 M151.18 178.69 L149.20 179.35 L147.88 181.33 L147.22 184.64 L147.22 186.62 L147.88 189.93 L149.20 191.91 L151.18 192.57 L152.51 192.57 L154.49 191.91 L155.81 189.93 L156.47 186.62 L156.47 184.64 L155.81 181.33 L154.49 179.35 L152.51 178.69 L151.18 178.69 M151.18 178.69 L149.86 179.35 L149.20 180.01 L148.54 181.33 L147.88 184.64 L147.88 186.62 L148.54 189.93 L149.20 191.25 L149.86 191.91 L151.18 192.57 M152.51 192.57 L153.83 191.91 L154.49 191.25 L155.15 189.93 L155.81 186.62 L155.81 184.64 L155.15 181.33 L154.49 180.01 L153.83 179.35 L152.51 178.69 M161.76 191.25 L161.10 191.91 L161.76 192.57 L162.42 191.91 L161.76 191.25 M171.01 178.69 L169.03 179.35 L167.71 181.33 L167.05 184.64 L167.05 186.62 L167.71 189.93 L169.03 191.91 L171.01 192.57 L172.34 192.57 L174.32 191.91 L175.64 189.93 L176.30 186.62 L176.30 184.64 L175.64 181.33 L174.32 179.35 L172.34 178.69 L171.01 178.69 M171.01 178.69 L169.69 179.35 L169.03 180.01 L168.37 181.33 L167.71 184.64 L167.71 186.62 L168.37 189.93 L169.03 191.25 L169.69 191.91 L171.01 192.57 M172.34 192.57 L173.66 191.91 L174.32 191.25 L174.98 189.93 L175.64 186.62 L175.64 184.64 L174.98 181.33 L174.32 180.01 L173.66 179.35 L172.34 178.69 M182.25 181.33 L183.57 180.67 L185.56 178.69 L185.56 192.57 M184.90 179.35 L184.90 192.57 M182.25 192.57 L188.20 192.57 M137.96 283.52 L135.98 284.18 L134.66 286.16 L134.00 289.47 L134.00 291.45 L134.66 294.76 L135.98 296.74 L137.96 297.40 L139.29 297.40 L141.27 296.74 L142.59 294.76 L143.25 291.45 L143.25 289.47 L142.59 286.16 L141.27 284.18 L139.29 283.52 L137.96 283.52 M137.96 283.52 L136.64 284.18 L135.98 284.84 L135.32 286.16 L134.66 289.47 L134.66 291.45 L135.32 294.76 L135.98 296.08 L136.64 296.74 L137.96 297.40 M139.29 297.40 L140.61 296.74 L141.27 296.08 L141.93 294.76 L142.59 291.45 L142.59 289.47 L141.93 286.16 L141.27 284.84 L140.61 284.18 L139.29 283.52 M148.54 296.08 L147.88 296.74 L148.54 297.40 L149.20 296.74 L148.54 296.08 M157.79 283.52 L155.81 284.18 L154.49 286.16 L153.83 289.47 L153.83 291.45 L154.49 294.76 L155.81 296.74 L157.79 297.40 L159.12 297.40 L161.10 296.74 L162.42 294.76 L163.08 291.45 L163.08 289.47 L162.42 286.16 L161.10 284.18 L159.12 283.52 L157.79 283.52 M157.79 283.52 L156.47 284.18 L155.81 284.84 L155.15 286.16 L154.49 289.47 L154.49 291.45 L155.15 294.76 L155.81 296.08 L156.47 296.74 L157.79 297.40 M159.12 297.40 L160.44 296.74 L161.10 296.08 L161.76 294.76 L162.42 291.45 L162.42 289.47 L161.76 286.16 L161.10 284.84 L160.44 284.18 L159.12 283.52 M171.01 283.52 L169.03 284.18 L167.71 286.16 L167.05 289.47 L167.05 291.45 L167.71 294.76 L169.03 296.74 L171.01 297.40 L172.34 297.40 L174.32 296.74 L175.64 294.76 L176.30 291.45 L176.30 289.47 L175.64 286.16 L174.32 284.18 L172.34 283.52 L171.01 283.52 M171.01 283.52 L169.69 284.18 L169.03 284.84 L168.37 286.16 L167.71 289.47 L167.71 291.45 L168.37 294.76 L169.03 296.08 L169.69 296.74 L171.01 297.40 M172.34 297.40 L173.66 296.74 L174.32 296.08 L174.98 294.76 L175.64 291.45 L175.64 289.47 L174.98 286.16 L174.32 284.84 L173.66 284.18 L172.34 283.52 M182.25 286.16 L183.57 285.50 L185.56 283.52 L185.56 297.40 M184.90 284.18 L184.90 297.40 M182.25 297.40 L188.20 297.40" fill="none" stroke="#000" stroke-width="1.45" stroke-linecap="round" stroke-linejoin="round"/>
<path d="M184.80 665.06 L182.78 665.68 L181.42 667.56 L180.75 670.68 L180.75 672.56 L181.42 675.68 L182.78 677.56 L184.80 678.18 L186.15 678.18 L188.17 677.56 L189.53 675.68 L190.20 672.56 L190.20 670.68 L189.53 667.56 L188.17 665.68 L186.15 665.06 L184.80 665.06 M184.80 665.06 L183.45 665.68 L182.78 666.31 L182.10 667.56 L181.42 670.68 L181.42 672.56 L182.10 675.68 L182.78 676.93 L183.45 677.56 L184.80 678.18 M186.15 678.18 L187.50 677.56 L188.17 676.93 L188.85 675.68 L189.53 672.56 L189.53 670.68 L188.85 667.56 L188.17 666.31 L187.50 665.68 L186.15 665.06 M167.92 602.90 L168.60 603.52 L167.92 604.15 L167.25 603.52 L167.25 602.90 L167.92 601.65 L168.60 601.02 L170.62 600.40 L173.32 600.40 L175.35 601.02 L176.03 601.65 L176.70 602.90 L176.70 604.15 L176.03 605.40 L174.00 606.65 L170.62 607.90 L169.28 608.52 L167.92 609.77 L167.25 611.65 L167.25 613.52 M173.32 600.40 L174.67 601.02 L175.35 601.65 L176.03 602.90 L176.03 604.15 L175.35 605.40 L173.32 606.65 L170.62 607.90 M167.25 612.27 L167.92 611.65 L169.28 611.65 L172.65 612.90 L174.67 612.90 L176.03 612.27 L176.70 611.65 M169.28 611.65 L172.65 613.52 L175.35 613.52 L176.03 612.90 L176.70 611.65 L176.70 610.40 M184.80 600.40 L182.78 601.02 L181.42 602.90 L180.75 606.02 L180.75 607.90 L181.42 611.02 L182.78 612.90 L184.80 613.52 L186.15 613.52 L188.17 612.90 L189.53 611.02 L190.20 607.90 L190.20 606.02 L189.53 602.90 L188.17 601.02 L186.15 600.40 L184.80 600.40 M184.80 600.40 L183.45 601.02 L182.78 601.65 L182.10 602.90 L181.42 606.02 L181.42 607.90 L182.10 611.02 L182.78 612.27 L183.45 612.90 L184.80 613.52 M186.15 613.52 L187.50 612.90 L188.17 612.27 L188.85 611.02 L189.53 607.90 L189.53 606.02 L188.85 602.90 L188.17 601.65 L187.50 601.02 L186.15 600.40 M173.32 536.98 L173.32 548.86 M174.00 535.73 L174.00 548.86 M174.00 535.73 L166.57 545.11 L177.38 545.11 M171.30 548.86 L176.03 548.86 M184.80 535.73 L182.78 536.36 L181.42 538.23 L180.75 541.36 L180.75 543.23 L181.42 546.36 L182.78 548.23 L184.80 548.86 L186.15 548.86 L188.17 548.23 L189.53 546.36 L190.20 543.23 L190.20 541.36 L189.53 538.23 L188.17 536.36 L186.15 535.73 L184.80 535.73 M184.80 535.73 L183.45 536.36 L182.78 536.98 L182.10 538.23 L181.42 541.36 L181.42 543.23 L182.10 546.36 L182.78 547.61 L183.45 548.23 L184.80 548.86 M186.15 548.86 L187.50 548.23 L188.17 547.61 L188.85 546.36 L189.53 543.23 L189.53 541.36 L188.85 538.23 L188.17 536.98 L187.50 536.36 L186.15 535.73 M175.35 472.95 L174.67 473.57 L175.35 474.20 L176.03 473.57 L176.03 472.95 L175.35 471.70 L174.00 471.07 L171.97 471.07 L169.95 471.70 L168.60 472.95 L167.92 474.20 L167.25 476.70 L167.25 480.45 L167.92 482.32 L169.28 483.57 L171.30 484.20 L172.65 484.20 L174.67 483.57 L176.03 482.32 L176.70 480.45 L176.70 479.82 L176.03 477.95 L174.67 476.70 L172.65 476.07 L171.97 476.07 L169.95 476.70 L168.60 477.95 L167.92 479.82 M171.97 471.07 L170.62 471.70 L169.28 472.95 L168.60 474.20 L167.92 476.70 L167.92 480.45 L168.60 482.32 L169.95 483.57 L171.30 484.20 M172.65 484.20 L174.00 483.57 L175.35 482.32 L176.03 480.45 L176.03 479.82 L175.35 477.95 L174.00 476.70 L172.65 476.07 M184.80 471.07 L182.78 471.70 L181.42 473.57 L180.75 476.70 L180.75 478.57 L181.42 481.70 L182.78 483.57 L184.80 484.20 L186.15 484.20 L188.17 483.57 L189.53 481.70 L190.20 478.57 L190.20 476.70 L189.53 473.57 L188.17 471.70 L186.15 471.07 L184.80 471.07 M184.80 471.07 L183.45 471.70 L182.78 472.32 L182.10 473.57 L181.42 476.70 L181.42 478.57 L182.10 481.70 L182.78 482.95 L183.45 483.57 L184.80 484.20 M186.15 484.20 L187.50 483.57 L188.17 482.95 L188.85 481.70 L189.53 478.57 L189.53 476.70 L188.85 473.57 L188.17 472.32 L187.50 471.70 L186.15 471.07 M170.62 406.41 L168.60 407.03 L167.92 408.28 L167.92 410.16 L168.60 411.41 L170.62 412.03 L173.32 412.03 L175.35 411.41 L176.03 410.16 L176.03 408.28 L175.35 407.03 L173.32 406.41 L170.62 406.41 M170.62 406.41 L169.28 407.03 L168.60 408.28 L168.60 410.16 L169.28 411.41 L170.62 412.03 M173.32 412.03 L174.67 411.41 L175.35 410.16 L175.35 408.28 L174.67 407.03 L173.32 406.41 M170.62 412.03 L168.60 412.66 L167.92 413.28 L167.25 414.53 L167.25 417.03 L167.92 418.28 L168.60 418.91 L170.62 419.53 L173.32 419.53 L175.35 418.91 L176.03 418.28 L176.70 417.03 L176.70 414.53 L176.03 413.28 L175.35 412.66 L173.32 412.03 M170.62 412.03 L169.28 412.66 L168.60 413.28 L167.92 414.53 L167.92 417.03 L168.60 418.28 L169.28 418.91 L170.62 419.53 M173.32 419.53 L174.67 418.91 L175.35 418.28 L176.03 417.03 L176.03 414.53 L175.35 413.28 L174.67 412.66 L173.32 412.03 M184.80 406.41 L182.78 407.03 L181.42 408.91 L180.75 412.03 L180.75 413.91 L181.42 417.03 L182.78 418.91 L184.80 419.53 L186.15 419.53 L188.17 418.91 L189.53 417.03 L190.20 413.91 L190.20 412.03 L189.53 408.91 L188.17 407.03 L186.15 406.41 L184.80 406.41 M184.80 406.41 L183.45 407.03 L182.78 407.66 L182.10 408.91 L181.42 412.03 L181.42 413.91 L182.10 417.03 L182.78 418.28 L183.45 418.91 L184.80 419.53 M186.15 419.53 L187.50 418.91 L188.17 418.28 L188.85 417.03 L189.53 413.91 L189.53 412.03 L188.85 408.91 L188.17 407.66 L187.50 407.03 L186.15 406.41 M230.34 690.00 L228.19 690.68 L226.76 692.70 L226.05 696.08 L226.05 698.10 L226.76 701.48 L228.19 703.50 L230.34 704.18 L231.77 704.18 L233.91 703.50 L235.34 701.48 L236.06 698.10 L236.06 696.08 L235.34 692.70 L233.91 690.68 L231.77 690.00 L230.34 690.00 M230.34 690.00 L228.91 690.68 L228.19 691.35 L227.48 692.70 L226.76 696.08 L226.76 698.10 L227.48 701.48 L228.19 702.83 L228.91 703.50 L230.34 704.18 M231.77 704.18 L233.20 703.50 L233.91 702.83 L234.62 701.48 L235.34 698.10 L235.34 696.08 L234.62 692.70 L233.91 691.35 L233.20 690.68 L231.77 690.00 M362.19 692.70 L363.62 692.02 L365.76 690.00 L365.76 704.18 M365.05 690.68 L365.05 704.18 M362.19 704.18 L368.62 704.18 M494.76 692.70 L495.47 693.38 L494.76 694.05 L494.04 693.38 L494.04 692.70 L494.76 691.35 L495.47 690.68 L497.62 690.00 L500.48 690.00 L502.62 690.68 L503.34 691.35 L504.05 692.70 L504.05 694.05 L503.34 695.40 L501.19 696.75 L497.62 698.10 L496.19 698.77 L494.76 700.12 L494.04 702.15 L494.04 704.18 M500.48 690.00 L501.91 690.68 L502.62 691.35 L503.34 692.70 L503.34 694.05 L502.62 695.40 L500.48 696.75 L497.62 698.10 M494.04 702.83 L494.76 702.15 L496.19 702.15 L499.76 703.50 L501.91 703.50 L503.34 702.83 L504.05 702.15 M496.19 702.15 L499.76 704.18 L502.62 704.18 L503.34 703.50 L504.05 702.15 L504.05 700.80 M628.76 692.70 L629.47 693.38 L628.76 694.05 L628.04 693.38 L628.04 692.70 L628.76 691.35 L629.47 690.68 L631.62 690.00 L634.48 690.00 L636.62 690.68 L637.34 692.02 L637.34 694.05 L636.62 695.40 L634.48 696.08 L632.33 696.08 M634.48 690.00 L635.91 690.68 L636.62 692.02 L636.62 694.05 L635.91 695.40 L634.48 696.08 M634.48 696.08 L635.91 696.75 L637.34 698.10 L638.05 699.45 L638.05 701.48 L637.34 702.83 L636.62 703.50 L634.48 704.18 L631.62 704.18 L629.47 703.50 L628.76 702.83 L628.04 701.48 L628.04 700.80 L628.76 700.12 L629.47 700.80 L628.76 701.48 M636.62 697.43 L637.34 699.45 L637.34 701.48 L636.62 702.83 L635.91 703.50 L634.48 704.18" fill="none" stroke="#000" stroke-width="1.50" stroke-linecap="round" stroke-linejoin="round"/>
<path d="M384.57 733.52 L373.96 747.17 M385.54 733.52 L374.93 747.17 M374.93 733.52 L373.96 737.42 L373.96 733.52 L385.54 733.52 M373.96 747.17 L385.54 747.17 L385.54 743.27 L384.57 747.17 M414.66 722.80 L412.73 724.75 L410.80 727.67 L408.87 731.57 L407.91 736.45 L407.91 740.35 L408.87 745.23 L410.80 749.12 L412.73 752.05 L414.66 754.00 M412.73 724.75 L410.80 728.65 L409.84 731.57 L408.87 736.45 L408.87 740.35 L409.84 745.23 L410.80 748.15 L412.73 752.05 M423.91 726.70 L423.91 747.17 M424.88 726.70 L424.88 747.17 M434.52 733.52 L424.88 743.27 M429.70 739.38 L435.49 747.17 M428.74 739.38 L434.52 747.17 M421.01 726.70 L424.88 726.70 M431.63 733.52 L437.42 733.52 M421.01 747.17 L427.77 747.17 M431.63 747.17 L437.42 747.17 M444.76 733.52 L444.76 754.00 M445.73 733.52 L445.73 754.00 M445.73 736.45 L447.66 734.50 L449.59 733.52 L451.51 733.52 L454.41 734.50 L456.34 736.45 L457.31 739.38 L457.31 741.32 L456.34 744.25 L454.41 746.20 L451.51 747.17 L449.59 747.17 L447.66 746.20 L445.73 744.25 M451.51 733.52 L453.44 734.50 L455.38 736.45 L456.34 739.38 L456.34 741.32 L455.38 744.25 L453.44 746.20 L451.51 747.17 M441.87 733.52 L445.73 733.52 M441.87 754.00 L448.62 754.00 M475.52 736.45 L474.56 737.42 L475.52 738.40 L476.49 737.42 L476.49 736.45 L474.56 734.50 L472.63 733.52 L469.74 733.52 L466.84 734.50 L464.91 736.45 L463.94 739.38 L463.94 741.32 L464.91 744.25 L466.84 746.20 L469.74 747.17 L471.66 747.17 L474.56 746.20 L476.49 744.25 M469.74 733.52 L467.81 734.50 L465.88 736.45 L464.91 739.38 L464.91 741.32 L465.88 744.25 L467.81 746.20 L469.74 747.17 M483.44 722.80 L485.37 724.75 L487.30 727.67 L489.23 731.57 L490.19 736.45 L490.19 740.35 L489.23 745.23 L487.30 749.12 L485.37 752.05 L483.44 754.00 M485.37 724.75 L487.30 728.65 L488.26 731.57 L489.23 736.45 L489.23 740.35 L488.26 745.23 L487.30 748.15 L485.37 752.05" fill="none" stroke="#000" stroke-width="1.6" stroke-linecap="round" stroke-linejoin="round"/>
<path d="M99.05 331.19 L102.05 330.20 L103.05 329.21 L104.05 327.23 L104.05 325.25 L103.05 322.28 L100.05 320.30 L97.05 319.31 L94.05 319.31 L92.05 320.30 L91.05 321.29 L90.05 323.27 L90.05 325.25 L91.05 328.22 L94.05 330.20 L97.05 331.19 L111.05 335.15 M104.05 325.25 L103.05 323.27 L100.05 321.29 L97.05 320.30 L93.05 320.30 L91.05 321.29 M90.05 325.25 L91.05 327.23 L94.05 329.21 L97.05 330.20 L111.05 334.16 M79.05 305.69 L81.05 307.67 L84.05 309.65 L88.05 311.63 L93.05 312.62 L97.05 312.62 L102.05 311.63 L106.05 309.65 L109.05 307.67 L111.05 305.69 M81.05 307.67 L85.05 309.65 L88.05 310.64 L93.05 311.63 L97.05 311.63 L102.05 310.64 L105.05 309.65 L109.05 307.67 M90.05 288.25 L104.05 299.14 M90.05 287.26 L104.05 298.15 M90.05 298.15 L94.05 299.14 L90.05 299.14 L90.05 287.26 M104.05 299.14 L104.05 287.26 L100.05 287.26 L104.05 288.25 M79.05 280.86 L81.05 278.88 L84.05 276.90 L88.05 274.92 L93.05 273.93 L97.05 273.93 L102.05 274.92 L106.05 276.90 L109.05 278.88 L111.05 280.86 M81.05 278.88 L85.05 276.90 L88.05 275.91 L93.05 274.92 L97.05 274.92 L102.05 275.91 L105.05 276.90 L109.05 278.88 M79.05 243.59 L81.05 245.57 L84.05 247.55 L88.05 249.53 L93.05 250.52 L97.05 250.52 L102.05 249.53 L106.05 247.55 L109.05 245.57 L111.05 243.59 M81.05 245.57 L85.05 247.55 L88.05 248.54 L93.05 249.53 L97.05 249.53 L102.05 248.54 L105.05 247.55 L109.05 245.57 M83.05 235.33 L104.05 235.33 M83.05 234.34 L101.05 228.40 M83.05 235.33 L104.05 228.40 M83.05 221.47 L104.05 228.40 M83.05 221.47 L104.05 221.47 M83.05 220.48 L104.05 220.48 M83.05 238.30 L83.05 234.34 M83.05 221.47 L83.05 217.51 M104.05 238.30 L104.05 232.36 M104.05 224.44 L104.05 217.51 M101.07 207.83 L101.96 210.47 L103.74 212.24 L106.41 213.12 L108.19 213.12 L110.86 212.24 L112.64 210.47 L113.53 207.83 L113.53 206.07 L112.64 203.43 L110.86 201.66 L108.19 200.78 L106.41 200.78 L103.74 201.66 L101.96 203.43 L101.07 206.07 L101.07 207.83 M106.41 206.95 L107.30 207.83 L108.19 206.95 L107.30 206.07 L106.41 206.95 M90.05 185.14 L111.05 185.14 M90.05 184.15 L111.05 184.15 M93.05 184.15 L91.05 182.17 L90.05 180.19 L90.05 178.21 L91.05 175.24 L93.05 173.26 L96.05 172.27 L98.05 172.27 L101.05 173.26 L103.05 175.24 L104.05 178.21 L104.05 180.19 L103.05 182.17 L101.05 184.15 M90.05 178.21 L91.05 176.23 L93.05 174.25 L96.05 173.26 L98.05 173.26 L101.05 174.25 L103.05 176.23 L104.05 178.21 M90.05 188.11 L90.05 184.15 M111.05 188.11 L111.05 181.18 M93.05 155.65 L94.05 156.64 L95.05 155.65 L94.05 154.66 L93.05 154.66 L91.05 156.64 L90.05 158.62 L90.05 161.59 L91.05 164.56 L93.05 166.54 L96.05 167.53 L98.05 167.53 L101.05 166.54 L103.05 164.56 L104.05 161.59 L104.05 159.61 L103.05 156.64 L101.05 154.66 M90.05 161.59 L91.05 163.57 L93.05 165.55 L96.05 166.54 L98.05 166.54 L101.05 165.55 L103.05 163.57 L104.05 161.59 M89.05 148.84 L89.05 137.96 M84.17 133.47 L84.78 132.87 L85.39 133.47 L84.78 134.08 L84.17 134.08 L82.95 133.47 L82.34 132.87 L81.73 131.06 L81.73 128.64 L82.34 126.83 L83.56 126.23 L85.39 126.23 L86.61 126.83 L87.22 128.64 L87.22 130.45 M81.73 128.64 L82.34 127.43 L83.56 126.83 L85.39 126.83 L86.61 127.43 L87.22 128.64 M87.22 128.64 L87.83 127.43 L89.05 126.23 L90.27 125.62 L92.10 125.62 L93.32 126.23 L93.93 126.83 L94.54 128.64 L94.54 131.06 L93.93 132.87 L93.32 133.47 L92.10 134.08 L91.49 134.08 L90.88 133.47 L91.49 132.87 L92.10 133.47 M88.44 126.83 L90.27 126.23 L92.10 126.23 L93.32 126.83 L93.93 127.43 L94.54 128.64 M79.05 120.11 L81.05 118.13 L84.05 116.15 L88.05 114.17 L93.05 113.18 L97.05 113.18 L102.05 114.17 L106.05 116.15 L109.05 118.13 L111.05 120.11 M81.05 118.13 L85.05 116.15 L88.05 115.16 L93.05 114.17 L97.05 114.17 L102.05 115.16 L105.05 116.15 L109.05 118.13" fill="none" stroke="#000" stroke-width="1.50" stroke-linecap="round" stroke-linejoin="round"/>
<path d="M115.44 643.24 L131.20 649.92 L146.96 643.24 M126.27 636.23 L140.06 630.50 M126.27 635.27 L138.09 630.50 M126.27 624.77 L140.06 630.50 M126.27 638.14 L126.27 632.41 M126.27 628.59 L126.27 622.86 M120.29 618.45 L120.89 617.86 L121.49 618.45 L120.89 619.03 L120.29 619.03 L119.09 618.45 L118.49 617.86 L117.89 616.12 L117.89 613.78 L118.49 612.04 L119.09 611.45 L120.29 610.87 L121.49 610.87 L122.70 611.45 L123.90 613.20 L125.10 616.12 L125.70 617.28 L126.90 618.45 L128.71 619.03 L130.51 619.03 M117.89 613.78 L118.49 612.62 L119.09 612.04 L120.29 611.45 L121.49 611.45 L122.70 612.04 L123.90 613.78 L125.10 616.12 M129.31 619.03 L128.71 618.45 L128.71 617.28 L129.91 614.37 L129.91 612.62 L129.31 611.45 L128.71 610.87 M128.71 617.28 L130.51 614.37 L130.51 612.04 L129.91 611.45 L128.71 610.87 L127.50 610.87 M115.44 605.32 L131.20 598.63 L146.96 605.32 M120.29 591.53 L119.69 590.37 L117.89 588.62 L130.51 588.62 M118.49 589.20 L130.51 589.20 M130.51 591.53 L130.51 586.29 M115.49 571.61 L134.71 582.09 M120.29 567.85 L120.89 567.26 L121.49 567.85 L120.89 568.43 L120.29 568.43 L119.09 567.85 L118.49 567.26 L117.89 565.52 L117.89 563.18 L118.49 561.44 L119.09 560.85 L120.29 560.27 L121.49 560.27 L122.70 560.85 L123.90 562.60 L125.10 565.52 L125.70 566.68 L126.90 567.85 L128.71 568.43 L130.51 568.43 M117.89 563.18 L118.49 562.02 L119.09 561.44 L120.29 560.85 L121.49 560.85 L122.70 561.44 L123.90 563.18 L125.10 565.52 M129.31 568.43 L128.71 567.85 L128.71 566.68 L129.91 563.77 L129.91 562.02 L129.31 560.85 L128.71 560.27 M128.71 566.68 L130.51 563.77 L130.51 561.44 L129.91 560.85 L128.71 560.27 L127.50 560.27 M115.44 531.03 L117.41 532.94 L120.36 534.85 L124.30 536.76 L129.23 537.72 L133.17 537.72 L138.09 536.76 L142.03 534.85 L144.99 532.94 L146.96 531.03 M117.41 532.94 L121.35 534.85 L124.30 535.81 L129.23 536.76 L133.17 536.76 L138.09 535.81 L141.05 534.85 L144.99 532.94 M119.38 521.88 L140.06 521.88 M119.38 520.92 L140.06 520.92 M126.27 511.38 L136.12 520.92 M132.19 516.15 L140.06 510.42 M132.19 517.11 L140.06 511.38 M119.38 524.75 L119.38 520.92 M126.27 514.24 L126.27 508.51 M140.06 524.75 L140.06 518.06 M140.06 514.24 L140.06 508.51 M126.27 501.25 L140.06 501.25 M126.27 500.30 L140.06 500.30 M129.23 500.30 L127.26 498.39 L126.27 495.52 L126.27 493.62 L127.26 490.75 L129.23 489.80 L140.06 489.80 M126.27 493.62 L127.26 491.70 L129.23 490.75 L140.06 490.75 M129.23 489.80 L127.26 487.88 L126.27 485.02 L126.27 483.11 L127.26 480.25 L129.23 479.29 L140.06 479.29 M126.27 483.11 L127.26 481.20 L129.23 480.25 L140.06 480.25 M126.27 504.12 L126.27 500.30 M140.06 504.12 L140.06 497.44 M140.06 493.62 L140.06 486.93 M140.06 483.11 L140.06 476.43 M128.24 444.68 L126.27 443.72 L130.21 443.72 L128.24 444.68 L127.26 445.63 L126.27 447.54 L126.27 451.36 L127.26 453.27 L128.24 454.22 L130.21 454.22 L131.20 453.27 L132.19 451.36 L134.16 446.58 L135.14 444.68 L136.12 443.72 M129.23 454.22 L130.21 453.27 L131.20 451.36 L133.17 446.58 L134.16 444.68 L135.14 443.72 L138.09 443.72 L139.08 444.68 L140.06 446.58 L140.06 450.40 L139.08 452.31 L138.09 453.27 L136.12 454.22 L140.06 454.22 L138.09 453.27 M125.10 438.39 L125.10 427.91 M120.29 421.38 L119.69 420.22 L117.89 418.47 L130.51 418.47 M118.49 419.05 L130.51 419.05 M130.51 421.38 L130.51 416.14 M115.44 409.97 L117.41 408.06 L120.36 406.15 L124.30 404.24 L129.23 403.28 L133.17 403.28 L138.09 404.24 L142.03 406.15 L144.99 408.06 L146.96 409.97 M117.41 408.06 L121.35 406.15 L124.30 405.19 L129.23 404.24 L133.17 404.24 L138.09 405.19 L141.05 406.15 L144.99 408.06" fill="none" stroke="#000" stroke-width="1.55" stroke-linecap="round" stroke-linejoin="round"/>
</svg></body></html>
